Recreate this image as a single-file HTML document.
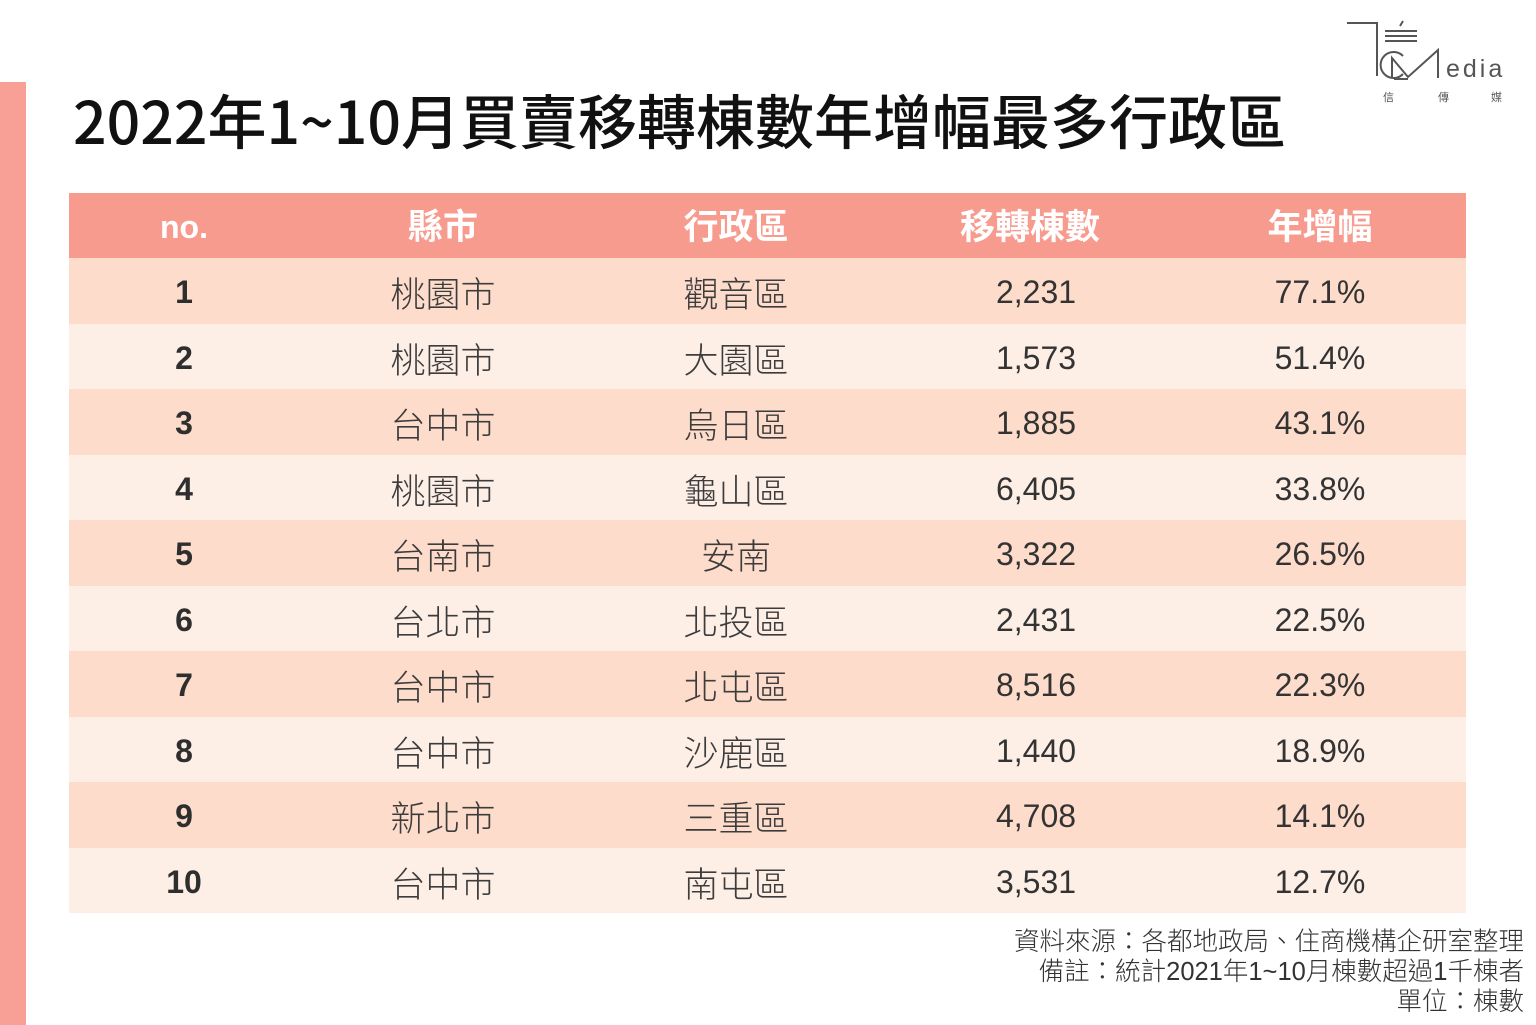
<!DOCTYPE html>
<html><head><meta charset="utf-8">
<style>
*{margin:0;padding:0;box-sizing:border-box}
html,body{width:1536px;height:1025px;overflow:hidden;background:#fff}
body{position:relative;font-family:"Liberation Sans","Noto Sans CJK TC",sans-serif}
.bar{position:absolute;left:0;top:82px;width:26px;height:943px;background:#f8a095}
.title{position:absolute;left:73px;top:79px;font-size:59px;line-height:80px;font-family:"Noto Sans CJK TC",sans-serif;font-weight:500;color:#111;white-space:nowrap}
.row{position:absolute;left:69px;width:1397px;height:65.5px}
.hdr{top:193px;height:65px;background:#f89b8f}
.odd{background:#fddccb}
.even{background:#fdeee6}
.c{position:absolute;top:2px;height:100%;line-height:65px;white-space:nowrap;transform:translateX(-50%)}
.hdr .c{color:#fff;font-weight:bold;font-size:35px}
.hdr .no{font-size:32px}
.n{font-weight:bold;font-size:32px;color:#2e2e2e}
.z{font-size:35px;color:#3c3c3c;font-family:"Noto Sans CJK TC",sans-serif;font-weight:300}
.v{font-size:32px;color:#333}
.c1{left:115px}.c2{left:374px}.c3{left:667px}.c4{left:967px}.c5{left:1251px}
.foot{position:absolute;right:12px;font-size:25.5px;color:#333;white-space:nowrap;line-height:30px;font-family:"Liberation Sans","Noto Sans CJK TC",sans-serif;font-weight:300}
</style></head><body>
<div class="bar"></div>
<div class="title">2022年1~10月買賣移轉棟數年增幅最多行政區</div>

<svg style="position:absolute;left:1340px;top:12px" width="180" height="98" viewBox="1340 12 180 98">
  <g stroke="#555" stroke-width="2" fill="none">
    <polyline points="1347,23 1377,23 1377,76"/>
    <line x1="1400" y1="26" x2="1403" y2="21"/>
    <line x1="1385" y1="31" x2="1417" y2="31"/>
    <line x1="1385" y1="36" x2="1417" y2="36"/>
    <line x1="1385" y1="41" x2="1417" y2="41"/>
    <path d="M1403,56 A13,13 0 1 0 1403,74"/>
    <polyline points="1392,77 1392,58 1408,77 1438,50 1438,78"/>
    <line x1="1394" y1="79" x2="1408" y2="79"/>
  </g>
  <text x="1446" y="77" font-family="Liberation Sans" font-size="25" fill="#555" letter-spacing="3">edia</text>
  <text x="1383" y="101" font-family="Noto Sans CJK TC" font-size="11" fill="#555">信</text>
  <text x="1438" y="101" font-family="Noto Sans CJK TC" font-size="11" fill="#555">傳</text>
  <text x="1491" y="101" font-family="Noto Sans CJK TC" font-size="11" fill="#555">媒</text>
</svg>

<div class="row hdr">
  <span class="c c1 no">no.</span>
  <span class="c c2">縣市</span>
  <span class="c c3">行政區</span>
  <span class="c" style="left:961px">移轉棟數</span>
  <span class="c c5">年增幅</span>
</div>

<div class="row odd" style="top:258px"><span class="c c1 n">1</span><span class="c c2 z">桃園市</span><span class="c c3 z">觀音區</span><span class="c c4 v">2,231</span><span class="c c5 v">77.1%</span></div>
<div class="row even" style="top:323.5px"><span class="c c1 n">2</span><span class="c c2 z">桃園市</span><span class="c c3 z">大園區</span><span class="c c4 v">1,573</span><span class="c c5 v">51.4%</span></div>
<div class="row odd" style="top:389px"><span class="c c1 n">3</span><span class="c c2 z">台中市</span><span class="c c3 z">烏日區</span><span class="c c4 v">1,885</span><span class="c c5 v">43.1%</span></div>
<div class="row even" style="top:454.5px"><span class="c c1 n">4</span><span class="c c2 z">桃園市</span><span class="c c3 z">龜山區</span><span class="c c4 v">6,405</span><span class="c c5 v">33.8%</span></div>
<div class="row odd" style="top:520px"><span class="c c1 n">5</span><span class="c c2 z">台南市</span><span class="c c3 z">安南</span><span class="c c4 v">3,322</span><span class="c c5 v">26.5%</span></div>
<div class="row even" style="top:585.5px"><span class="c c1 n">6</span><span class="c c2 z">台北市</span><span class="c c3 z">北投區</span><span class="c c4 v">2,431</span><span class="c c5 v">22.5%</span></div>
<div class="row odd" style="top:651px"><span class="c c1 n">7</span><span class="c c2 z">台中市</span><span class="c c3 z">北屯區</span><span class="c c4 v">8,516</span><span class="c c5 v">22.3%</span></div>
<div class="row even" style="top:716.5px"><span class="c c1 n">8</span><span class="c c2 z">台中市</span><span class="c c3 z">沙鹿區</span><span class="c c4 v">1,440</span><span class="c c5 v">18.9%</span></div>
<div class="row odd" style="top:782px"><span class="c c1 n">9</span><span class="c c2 z">新北市</span><span class="c c3 z">三重區</span><span class="c c4 v">4,708</span><span class="c c5 v">14.1%</span></div>
<div class="row even" style="top:847.5px"><span class="c c1 n">10</span><span class="c c2 z">台中市</span><span class="c c3 z">南屯區</span><span class="c c4 v">3,531</span><span class="c c5 v">12.7%</span></div>

<div class="foot" style="top:927px">資料來源：各都地政局、住商機構企研室整理</div>
<div class="foot" style="top:957px">備註：統計2021年1~10月棟數超過1千棟者</div>
<div class="foot" style="top:987px">單位：棟數</div>
</body></html>
